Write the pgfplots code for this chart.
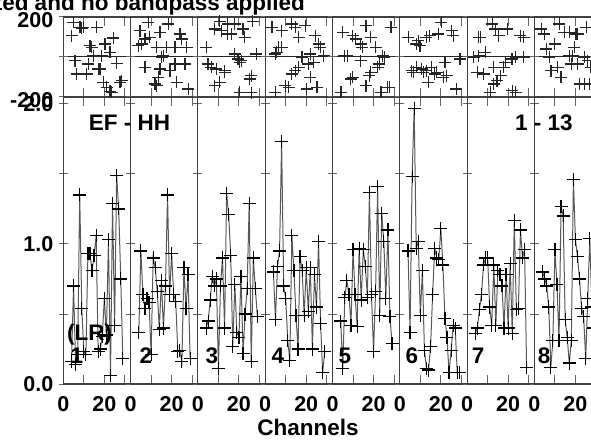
\documentclass[border=0pt]{standalone}
\usepackage{pgfplots}
\usepackage{pgfplotstable}
\pgfplotsset{compat=1.18}
\usepackage{fontspec}
\setmainfont{Liberation Sans}

\pgfplotstableread{
ch a1 a2 a3 a4 a5 a6 a7 a8
4 0.16 0.37 0.40 0.80 0.45 0.95 0.36 0.80
5 0.70 0.95 0.45 0.46 0.11 0.37 0.40 0.75
6 0.14 0.64 0.60 0.84 0.62 1.48 0.53 0.70
7 0.21 0.54 0.77 0.95 0.74 1.97 0.64 0.55
8 1.35 0.61 0.70 1.73 0.64 0.97 0.85 0.12
9 0.54 0.58 0.75 0.70 0.42 1.02 0.90 0.31
10 0.23 0.21 0.11 0.61 0.96 0.49 0.90 0.96
11 0.21 0.90 0.70 0.31 0.64 0.81 0.55 0.71
12 0.93 0.83 0.90 0.17 0.41 0.24 0.42 0.31
13 0.93 0.66 0.40 1.06 0.97 0.11 0.85 1.27
14 0.81 0.39 1.36 0.81 0.60 0.10 0.42 1.20
15 0.92 0.74 1.21 0.49 0.96 0.27 0.81 0.46
16 1.06 0.40 0.92 0.25 0.84 0.64 0.78 0.33
17 0.23 0.70 0.27 0.91 0.62 0.97 0.70 0.15
18 0.25 1.35 0.71 0.81 1.37 0.90 0.40 0.31
19 0.34 0.64 0.37 0.49 0.64 0.89 0.78 1.46
20 0.61 0.93 0.33 0.83 0.23 1.11 0.40 1.03
21 0.35 0.64 0.77 0.52 0.66 0.85 0.86 0.91
22 1.03 0.59 0.22 0.83 1.41 0.47 0.36 0.75
23 0.06 0.23 0.50 0.25 0.49 0.33 1.17 0.54
24 1.29 0.24 0.68 0.78 1.22 0.08 0.53 0.48
25 0.42 0.16 1.29 0.55 1.02 0.24 0.54 0.18
26 1.49 0.83 0.16 1.02 0.61 0.42 1.10 0.61
27 1.25 0.54 0.90 0.43 1.10 0.40 0.90 1.04
28 0.75 0.78 0.68 0.08 0.48 0.08 0.96 0.55
29 0.18 0.18 0.48 0.23 0.29 0.08 0.12 0.40
}\amptab

\pgfplotsset{
  ifpanel/.style={
    scale only axis, width=67.3pt,
    xmin=0, xmax=32.8, xtick={0,10,20,30}, xticklabels={},
    axis line style={black!75, line width=1.1pt},
    tick style={black!60, line width=1pt},
    major tick length=9pt,
    xtick align=inside, ytick align=center,
    tick label style={font=\fontsize{21.5}{21.5}\selectfont\bfseries},
    /pgf/number format/assume math mode=true,
    xticklabel style={yshift=-9pt},
    yticklabel style={xshift=-2pt},
  },
  amppanel/.style={ifpanel, height=287pt, ymin=0, ymax=2.05,
    ytick={0,0.5,1,1.5,2}, yticklabels={}},
  phpanel/.style={ifpanel, height=80pt, ymin=-200, ymax=200,
    ytick={-200,200}, yticklabels={},
    extra y ticks={0}, extra y tick labels={},
    extra y tick style={grid=major, major grid style={black!85, line width=1pt}},
    yticklabel style={yshift=-3.5pt}},
  ampline/.style={black!65, line width=1pt, mark=+, mark size=6.5pt,
    mark options={black, line width=1.2pt, solid}},
  phmark/.style={only marks, mark=+, mark size=6pt,
    mark options={black!85, line width=1.2pt}},
}

\begin{document}
\begin{tikzpicture}
\useasboundingbox (-63.3pt,-55pt) rectangle (527.7pt,384pt);
\begin{scope}
\clip (-63.3pt,-55pt) rectangle (527.7pt,384pt);

% ---------------- amplitude panels ----------------
\begin{axis}[amppanel, at={(0pt,0pt)}, yticklabels={0.0,,1.0,,2.0}, xticklabels={0,,20,}]
\addplot[ampline] table[x=ch,y=a1]{\amptab};
\end{axis}
\begin{axis}[amppanel, at={(67.3pt,0pt)}, xticklabels={0,,20,}]
\addplot[ampline] table[x=ch,y=a2]{\amptab};
\end{axis}
\begin{axis}[amppanel, at={(134.6pt,0pt)}, xticklabels={0,,20,}]
\addplot[ampline] table[x=ch,y=a3]{\amptab};
\end{axis}
\begin{axis}[amppanel, at={(201.9pt,0pt)}, xticklabels={0,,20,}]
\addplot[ampline] table[x=ch,y=a4]{\amptab};
\end{axis}
\begin{axis}[amppanel, at={(269.2pt,0pt)}, xticklabels={0,,20,}]
\addplot[ampline] table[x=ch,y=a5]{\amptab};
\end{axis}
\begin{axis}[amppanel, at={(336.5pt,0pt)}, xticklabels={0,,20,}]
\addplot[ampline] table[x=ch,y=a6]{\amptab};
\end{axis}
\begin{axis}[amppanel, at={(403.8pt,0pt)}, xticklabels={0,,20,}]
\addplot[ampline] table[x=ch,y=a7]{\amptab};
\end{axis}
\begin{axis}[amppanel, at={(471.1pt,0pt)}, xticklabels={0,,20,}]
\addplot[ampline] table[x=ch,y=a8]{\amptab};
\end{axis}

% ---------------- phase panels ----------------
\begin{axis}[phpanel, at={(0pt,287pt)}, yticklabels={-200,200}]
\addplot[phmark] coordinates {(4.9,173) (4.1,107) (8.1,148) (8.9,145) (9.8,148) (16.3,148) (13.0,57) (13.8,48) (14.6,7) (20.3,65) (24.4,95) (22.8,23) (18.7,7) (5.7,-18) (6.5,-85) (11.4,-85) (12.2,-35) (17.1,-60) (17.9,-60) (26.0,-32) (19.5,-127) (21.1,-152) (22.8,-172) (23.6,-177) (27.6,-127) (28.5,-118)};
\end{axis}
\begin{axis}[phpanel, at={(67.3pt,287pt)}]
\addplot[phmark] coordinates {(8.6,173) (4.6,132) (14.3,123) (18.4,165) (24.1,115) (24.9,90) (7.0,90) (9.4,98) (5.4,65) (3.7,57) (12.7,48) (17.6,48) (21.6,48) (27.3,48) (15.9,7) (15.1,0) (7.0,-52) (14.3,-60) (19.2,-68) (21.6,-35) (26.5,-35) (13.5,-102) (12.7,-143) (22.4,-127) (11.9,-135) (28.1,-160)};
\end{axis}
\begin{axis}[phpanel, at={(134.6pt,287pt)}]
\addplot[phmark] coordinates {(10.6,178) (14.6,165) (17.9,165) (22.0,140) (26.8,178) (8.1,140) (11.4,132) (14.6,115) (16.3,115) (22.8,98) (4.1,48) (17.9,15) (28.5,15) (21.1,-18) (20.3,-27) (6.5,-52) (8.9,-60) (13.0,-68) (4.9,-35) (19.5,-10) (26.0,-93) (25.2,-110) (10.6,-127) (8.1,-143) (20.3,-177) (26.0,-178) (13.0,-77)};
\end{axis}
\begin{axis}[phpanel, at={(201.9pt,287pt)}]
\addplot[phmark] coordinates {(3.3,148) (8.1,132) (13.0,165) (14.6,148) (16.3,98) (19.5,157) (24.4,107) (26.0,65) (26.8,48) (6.5,48) (8.1,48) (5.7,23) (4.9,15) (17.9,0) (22.0,15) (28.5,7) (21.1,-35) (23.6,-27) (16.3,-52) (14.6,-68) (13.0,-85) (22.0,-102) (9.8,-143) (11.4,-152) (4.9,-177) (20.3,-160) (25.2,-152)};
\end{axis}
\begin{axis}[phpanel, at={(269.2pt,287pt)}]
\addplot[phmark] coordinates {(4.9,123) (9.8,107) (11.4,90) (13.8,65) (14.6,48) (16.3,157) (18.7,98) (21.1,48) (28.5,148) (5.7,7) (7.3,7) (13.8,-18) (24.4,7) (25.2,0) (22.8,-35) (22.0,-52) (17.9,-93) (18.7,-77) (8.9,-110) (9.8,-102) (16.3,-143) (23.6,-177) (26.8,-152) (4.1,-177) (27.6,-152)};
\end{axis}
\begin{axis}[phpanel, at={(336.5pt,287pt)}]
\addplot[phmark] coordinates {(4.1,98) (9.0,82) (9.8,57) (13.0,98) (14.6,107) (18.7,115) (20.3,173) (25.2,132) (26.0,107) (8.1,65) (5.7,-68) (6.5,-77) (8.1,-52) (11.4,-77) (13.0,-68) (15.4,-52) (17.1,-85) (17.9,-77) (22.0,-27) (22.8,-93) (21.1,-102) (13.8,-127) (27.6,-160) (29.3,-10) (10.6,-60)};
\end{axis}
\begin{axis}[phpanel, at={(403.8pt,287pt)}]
\addplot[phmark] coordinates {(12.2,165) (13.8,140) (19.5,140) (6.5,98) (5.7,98) (15.4,107) (26.0,107) (27.6,98) (5.7,7) (8.9,23) (3.3,0) (21.9,-10) (23.6,0) (27.6,0) (13.0,-52) (18.7,-27) (17.9,-52) (4.9,-77) (8.1,-85) (16.3,-93) (14.6,-118) (13.0,-135) (11.4,-177) (22.0,-168) (23.6,-177)};
\end{axis}
\begin{axis}[phpanel, at={(471.1pt,287pt)}]
\addplot[phmark] coordinates {(3.3,140) (4.9,115) (12.2,165) (14.6,123) (17.1,123) (20.3,115) (21.1,115) (25.2,148) (9.8,65) (5.7,40) (19.5,48) (7.3,0) (17.1,7) (18.7,7) (24.4,0) (26.0,-18) (27.6,-52) (11.4,-52) (13.0,-102) (8.1,-68) (22.0,-135) (24.4,-135) (26.8,-135) (17.9,-35) (21.1,-35)};
\end{axis}

% ---------------- texts ----------------
\begin{scope}[every node/.style={font=\fontsize{22.5}{22.5}\selectfont\bfseries, inner sep=0pt}]
\node at (66.2pt,261pt) {EF - HH};
\node at (480.7pt,261pt) {1 - 13};
\node at (26.2pt,49pt) {(LR)};
\node at (13.7pt,28pt) {1};
\node at (82.7pt,28pt) {2};
\node at (148.7pt,28pt) {3};
\node at (214.7pt,28pt) {4};
\node at (281.7pt,28pt) {5};
\node at (348.7pt,28pt) {6};
\node at (414.7pt,28pt) {7};
\node at (480.7pt,28pt) {8};
\node[anchor=base] at (244.7pt,-51pt) {Channels};
\node[anchor=base east] at (241.7pt,373.5pt) {Calibrated and no bandpass applied};
\end{scope}
\end{scope}
\end{tikzpicture}
\end{document}
